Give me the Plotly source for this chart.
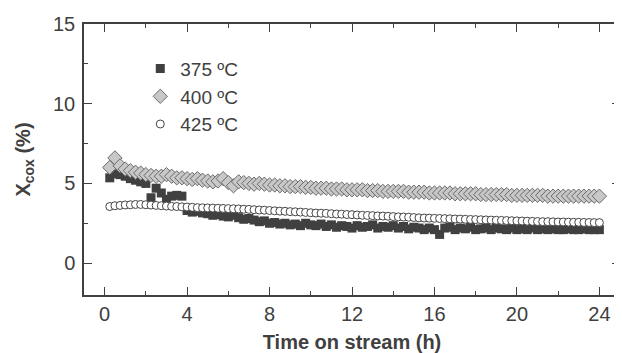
import plotly.graph_objects as go

time_h = [
    0.25, 0.5, 0.75, 1.0, 1.25, 1.5, 1.75, 2.0,
    2.25, 2.5, 2.75, 3.0, 3.25, 3.5, 3.75, 4.0,
    4.25, 4.5, 4.75, 5.0, 5.25, 5.5, 5.75, 6.0,
    6.25, 6.5, 6.75, 7.0, 7.25, 7.5, 7.75, 8.0,
    8.25, 8.5, 8.75, 9.0, 9.25, 9.5, 9.75, 10.0,
    10.25, 10.5, 10.75, 11.0, 11.25, 11.5, 11.75, 12.0,
    12.25, 12.5, 12.75, 13.0, 13.25, 13.5, 13.75, 14.0,
    14.25, 14.5, 14.75, 15.0, 15.25, 15.5, 15.75, 16.0,
    16.25, 16.5, 16.75, 17.0, 17.25, 17.5, 17.75, 18.0,
    18.25, 18.5, 18.75, 19.0, 19.25, 19.5, 19.75, 20.0,
    20.25, 20.5, 20.75, 21.0, 21.25, 21.5, 21.75, 22.0,
    22.25, 22.5, 22.75, 23.0, 23.25, 23.5, 23.75, 24.0,
]

x_375 = [
    5.35, 5.6, 5.55, 5.45, 5.3, 5.2, 5.1, 5.0,
    4.1, 4.7, 4.4, 4.0, 4.2, 4.25, 4.2, 3.3,
    3.2, 3.25, 3.15, 3.1, 3.0, 3.05, 2.95, 2.9,
    3.0, 2.85, 2.75, 2.8, 2.7, 2.6, 2.65, 2.5,
    2.55, 2.45, 2.5, 2.4, 2.45, 2.35, 2.5, 2.4,
    2.35, 2.45, 2.3, 2.4, 2.25, 2.35, 2.3, 2.2,
    2.35, 2.25, 2.3, 2.4, 2.2, 2.3, 2.25, 2.35,
    2.2, 2.3, 2.15, 2.25, 2.2, 2.1, 2.2, 2.1,
    1.8, 2.2, 2.25, 2.1, 2.2, 2.15, 2.25, 2.1,
    2.15, 2.2, 2.1, 2.2, 2.15, 2.1, 2.2, 2.1,
    2.15, 2.1, 2.2, 2.1, 2.15, 2.1, 2.15, 2.1,
    2.1, 2.15, 2.1, 2.1, 2.15, 2.1, 2.1, 2.1,
]

x_400 = [
    6.0, 6.6, 6.1, 5.9, 5.8, 5.7, 5.65, 5.55,
    5.5, 5.45, 5.45, 5.55, 5.45, 5.35, 5.35, 5.3,
    5.25, 5.3, 5.2, 5.15, 5.1, 5.15, 5.3, 5.05,
    4.85, 5.1, 5.05, 5.0, 4.95, 5.0, 4.95, 4.9,
    4.9, 4.85, 4.85, 4.8, 4.8, 4.8, 4.75, 4.75,
    4.7, 4.7, 4.7, 4.65, 4.65, 4.65, 4.6, 4.6,
    4.6, 4.6, 4.55, 4.55, 4.55, 4.5, 4.5, 4.5,
    4.5, 4.5, 4.45, 4.45, 4.45, 4.45, 4.4, 4.4,
    4.4, 4.4, 4.4, 4.35, 4.35, 4.35, 4.35, 4.35,
    4.3, 4.3, 4.3, 4.3, 4.3, 4.3, 4.25, 4.25,
    4.25, 4.25, 4.25, 4.25, 4.25, 4.2, 4.2, 4.2,
    4.2, 4.2, 4.2, 4.2, 4.2, 4.2, 4.2, 4.2,
]

x_425 = [
    3.55, 3.6, 3.62, 3.65, 3.66, 3.68, 3.68, 3.66,
    3.64, 3.62, 3.6, 3.58, 3.56, 3.55, 3.53, 3.52,
    3.5, 3.48, 3.47, 3.46, 3.45, 3.44, 3.43, 3.42,
    3.41, 3.4, 3.38, 3.37, 3.35, 3.33, 3.32, 3.3,
    3.28, 3.26, 3.25, 3.23, 3.22, 3.2, 3.18, 3.16,
    3.14, 3.13, 3.12, 3.1, 3.08, 3.07, 3.05, 3.04,
    3.02, 3.0, 2.99, 2.98, 2.96, 2.95, 2.94, 2.92,
    2.9, 2.89, 2.88, 2.86, 2.84, 2.83, 2.82, 2.81,
    2.8, 2.79, 2.78, 2.77, 2.76, 2.75, 2.74, 2.73,
    2.72, 2.71, 2.7, 2.69, 2.68, 2.67, 2.66, 2.65,
    2.64, 2.63, 2.62, 2.61, 2.6, 2.6, 2.59, 2.58,
    2.58, 2.57, 2.56, 2.56, 2.55, 2.55, 2.54, 2.54,
]

series_names = ["375 ºC", "400 ºC", "425 ºC"]
x_ticks = [0, 4, 8, 12, 16, 20, 24]
y_ticks = [0, 5, 10, 15]

FONT = "Liberation Sans, Arial, sans-serif"
INK = "#404040"

fig = go.Figure()
fig.add_trace(go.Scatter(
    x=time_h, y=x_375, mode="markers", name=series_names[0], legendgroup="a",
    marker=dict(symbol="square", size=9, color="#404040", line=dict(width=0)),
))
fig.add_trace(go.Scatter(
    x=time_h, y=x_400, mode="markers", name=series_names[1], legendgroup="b",
    marker=dict(symbol="diamond", size=11, color="#c8c8c8", line=dict(width=1, color="#6a6a6a")),
))
fig.add_trace(go.Scatter(
    x=time_h, y=x_425, mode="markers", name=series_names[2], legendgroup="c",
    marker=dict(symbol="circle", size=8, color="white", line=dict(width=1, color="#454545")),
))

axis_common = dict(
    showline=True, linecolor=INK, linewidth=1.5, mirror="ticks",
    ticks="inside", ticklen=8, tickwidth=1.2, tickcolor=INK,
    showgrid=False, zeroline=False, automargin=False,
    tickfont=dict(family=FONT, size=20, color=INK),
)

fig.update_xaxes(
    range=[-1, 25], tickvals=x_ticks,
    minor=dict(ticks="inside", ticklen=4, tickcolor=INK, tickwidth=1.2, dtick=2, tick0=0),
    title=dict(text="<b>Time on stream (h)</b>", font=dict(family=FONT, size=20, color=INK), standoff=12),
    **axis_common,
)
fig.update_yaxes(
    range=[-2, 15], tickvals=y_ticks, ticklabelstandoff=3,
    minor=dict(ticks="inside", ticklen=4, tickcolor=INK, tickwidth=1.2, dtick=2.5, tick0=0),
    title=dict(text="<b>X<sub>cox</sub> (%)</b>", font=dict(family=FONT, size=20, color=INK), standoff=17),
    **axis_common,
)

# The page places the figure 8px from the window's top-left corner.
fig.update_layout(
    width=614, height=345,
    margin=dict(l=76, r=2, t=16, b=58),
    paper_bgcolor="white", plot_bgcolor="white",
    showlegend=True,
    legend=dict(
        x=0.105, y=0.905, xanchor="left", yanchor="top",
        font=dict(family=FONT, size=19, color=INK),
        bgcolor="rgba(0,0,0,0)", tracegroupgap=0,
    ),
)

fig.write_html("out.html")
